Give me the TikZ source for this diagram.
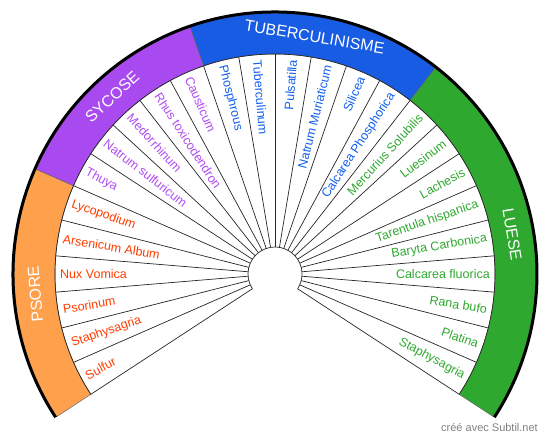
\documentclass[tikz,border=0pt]{standalone}
\usepackage{fontspec}
\setmainfont{Liberation Sans}
\usepackage{tikz}
\usetikzlibrary{positioning, calc}
\definecolor{psoreband}{RGB}{255,160,77}
\definecolor{sycoseband}{RGB}{168,74,240}
\definecolor{tuberband}{RGB}{24,92,228}
\definecolor{lueseband}{RGB}{46,168,46}
\definecolor{psoretext}{RGB}{255,60,0}
\definecolor{sycosetext}{RGB}{176,76,242}
\definecolor{tubertext}{RGB}{16,95,240}
\definecolor{luesetext}{RGB}{47,168,47}
\tikzset{
x=1pt, y=1pt, % one unit is one pixel of the chart
spoke/.style={draw=black!85, line width=0.7pt}, % the thin lines of the fan
band/.style={draw=black!60, line width=0.5pt}, % the coloured outer ring
remedy/.style={font=\fontsize{12.5}{14}\selectfont, inner sep=0pt}, % sets the text of each slice
leftremedy/.style={remedy, anchor=west},
rightremedy/.style={remedy, anchor=east},
miasm/.style={white, font=\fontsize{16}{18}\selectfont, inner sep=0pt}, % ring titles
}

\begin{document}
\begin{tikzpicture}
      \useasboundingbox (0,0) rectangle (550,438);
      \coordinate (C) at (275,164);
      \begin{scope}[shift={(C)}]
      % coloured ring
      \fill[psoreband, band] (213.158:220) arc[start angle=213.158, end angle=156.316, radius=220] -- (156.316:261) arc[start angle=156.316, end angle=213.158, radius=261] -- cycle;
      \fill[sycoseband, band] (156.316:220) arc[start angle=156.316, end angle=108.947, radius=220] -- (108.947:261) arc[start angle=108.947, end angle=156.316, radius=261] -- cycle;
      \fill[tuberband, band] (108.947:220) arc[start angle=108.947, end angle=52.105, radius=220] -- (52.105:261) arc[start angle=52.105, end angle=108.947, radius=261] -- cycle;
      \fill[lueseband, band] (52.105:220) arc[start angle=52.105, end angle=-33.158, radius=220] -- (-33.158:261) arc[start angle=-33.158, end angle=52.105, radius=261] -- cycle;
      \draw[line width=3pt] (213.158:262) arc[start angle=213.158, end angle=-33.158, radius=262];

      % slices
      \foreach \k in {0,...,26}
        \draw[spoke] ({90+(13-\k)*180/19}:27) -- ({90+(13-\k)*180/19}:220);
      \draw[spoke] (213.158:220) arc[start angle=213.158, end angle=-33.158, radius=220];
      \draw[spoke] (213.158:27) arc[start angle=213.158, end angle=-33.158, radius=27];

      \node[miasm, rotate=94.74] (psore) at (184.74:240.5) {PSORE};
      \node[miasm, rotate=42.63] (sycose) at (132.63:240.5) {SYCOSE};
      \node[miasm, rotate=-9.47] (tuber) at (80.53:240.5) {TUBERCULINISME};
      \node[miasm, rotate=-80.53] (luese) at (9.47:240.5) {LUESE};

      \node[leftremedy, psoretext, rotate=28.42] (sulfur) at (208.42:215) {Sulfur};
      \node[leftremedy, psoretext, rotate=18.95] (staph1) at (198.95:215) {Staphysagria};
      \node[leftremedy, psoretext, rotate=9.47] (psorinum) at (189.47:215) {Psorinum};
      \node[leftremedy, psoretext, rotate=0] (nux) at (180:215) {Nux Vomica};
      \node[leftremedy, psoretext, rotate=-9.47] (arsenicum) at (170.53:215) {Arsenicum Album};
      \node[leftremedy, psoretext, rotate=-18.95] (lyco) at (161.05:215) {Lycopodium};
      \node[leftremedy, sycosetext, rotate=-28.42] (thuya) at (151.58:215) {Thuya};
      \node[leftremedy, sycosetext, rotate=-37.89] (natsulf) at (142.11:215) {Natrum sulfuricum};
      \node[leftremedy, sycosetext, rotate=-47.37] (medo) at (132.63:215) {Medorrhinum};
      \node[leftremedy, sycosetext, rotate=-56.84] (rhus) at (123.16:215) {Rhus toxicodendron};
      \node[leftremedy, sycosetext, rotate=-66.32] (causticum) at (113.68:215) {Causticum};
      \node[leftremedy, tubertext, rotate=-75.79] (phos) at (104.21:215) {Phosphrous};
      \node[leftremedy, tubertext, rotate=-85.26] (tuberculinum) at (94.74:215) {Tuberculinum};
      \node[rightremedy, tubertext, rotate=85.26] (pulsatilla) at (85.26:215) {Pulsatilla};
      \node[rightremedy, tubertext, rotate=75.79] (natmur) at (75.79:215) {Natrum Muriaticum};
      \node[rightremedy, tubertext, rotate=66.32] (silicea) at (66.32:215) {Silicea};
      \node[rightremedy, tubertext, rotate=56.84] (calcphos) at (56.84:215) {Calcarea Phosphorica};
      \node[rightremedy, luesetext, rotate=47.37] (mercurius) at (47.37:215) {Mercurius Solubilis};
      \node[rightremedy, luesetext, rotate=37.89] (luesinum) at (37.89:215) {Luesinum};
      \node[rightremedy, luesetext, rotate=28.42] (lachesis) at (28.42:215) {Lachesis};
      \node[rightremedy, luesetext, rotate=18.95] (tarentula) at (18.95:215) {Tarentula hispanica};
      \node[rightremedy, luesetext, rotate=9.47] (baryta) at (9.47:215) {Baryta Carbonica};
      \node[rightremedy, luesetext, rotate=0] (calcfluor) at (0:215) {Calcarea fluorica};
      \node[rightremedy, luesetext, rotate=-9.47] (rana) at (-9.47:215) {Rana bufo};
      \node[rightremedy, luesetext, rotate=-18.95] (platina) at (-18.95:215) {Platina};
      \node[rightremedy, luesetext, rotate=-28.42] (staph2) at (-28.42:215) {Staphysagria};
      \end{scope}

      \node[anchor=east, inner sep=0pt, text=black!50, font=\fontsize{11}{13}\selectfont] (credit) at (538,10) {créé avec Subtil.net};
    \end{tikzpicture}
\end{document}
